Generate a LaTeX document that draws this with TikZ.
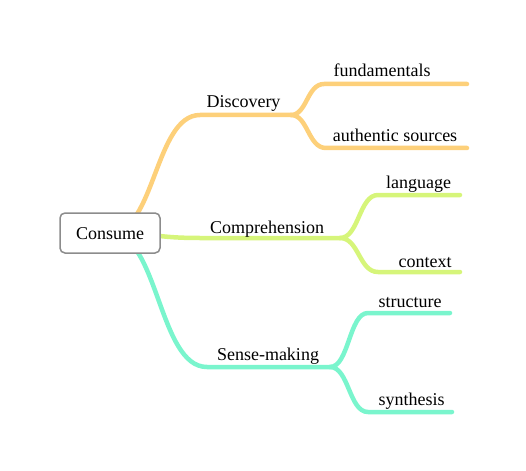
\documentclass[tikz,border=0pt]{standalone}
\usepackage{fontspec}
\setmainfont{Liberation Serif}
\definecolor{cOr}{RGB}{253,208,122}
\definecolor{cLi}{RGB}{214,245,122}
\definecolor{cMi}{RGB}{122,245,205}
\definecolor{cBox}{RGB}{140,140,140}
\begin{document}
\begin{tikzpicture}[x=1pt,y=-1pt,
  br/.style={line width=4.5pt,line cap=round},
  lbl/.style={anchor=base,inner sep=0pt,font=\fontsize{18}{20}\selectfont},
  rootbox/.style={draw=cBox,line width=1.5pt,fill=white,rounded corners=5pt,minimum width=100pt,minimum height=40pt,inner sep=0pt}]
\useasboundingbox (0,0) rectangle (526,470);
% coordinates
\coordinate (r) at (110,233);
\coordinate (dA) at (200,115); \coordinate (dF) at (291,115);
\coordinate (cA) at (200,238); \coordinate (cF) at (340,238);
\coordinate (sA) at (207,367); \coordinate (sF) at (330,367);
\coordinate (f1) at (324,84);  \coordinate (f2) at (467,84);
\coordinate (a1) at (326,148); \coordinate (a2) at (467,148);
\coordinate (l1) at (378,195); \coordinate (l2) at (460,195);
\coordinate (x1) at (378,272); \coordinate (x2) at (460,272);
\coordinate (t1) at (368,313); \coordinate (t2) at (450,313);
\coordinate (y1) at (368,412); \coordinate (y2) at (452,412);
% Discovery
\draw[br,cOr] (r) .. controls (155,233) and (155,115) .. (dA) -- (dF);
\draw[br,cOr] (dF) .. controls (307,115) and (307,84) .. (f1) -- (f2);
\draw[br,cOr] (dF) .. controls (308,115) and (308,148) .. (a1) -- (a2);
% Comprehension
\draw[br,cLi] (r) .. controls (155,233) and (155,238) .. (cA) -- (cF);
\draw[br,cLi] (cF) .. controls (359,238) and (359,195) .. (l1) -- (l2);
\draw[br,cLi] (cF) .. controls (359,238) and (359,272) .. (x1) -- (x2);
% Sense-making
\draw[br,cMi] (r) .. controls (158.5,233) and (158.5,367) .. (sA) -- (sF);
\draw[br,cMi] (sF) .. controls (349,367) and (349,313) .. (t1) -- (t2);
\draw[br,cMi] (sF) .. controls (349,367) and (349,412) .. (y1) -- (y2);
% root
\node[rootbox] (root) at (110,233) {};
\node[lbl] (rootT) at (110,239) {Consume};
% labels
\node[lbl] (disc) at (243.5,108) {Discovery};
\node[lbl] (comp) at (267,233) {Comprehension};
\node[lbl] (sense) at (268,360) {Sense-making};
\node[lbl] (fund) at (382,77) {fundamentals};
\node[lbl] (auth) at (395,142) {authentic sources};
\node[lbl] (lang) at (418.5,188) {language};
\node[lbl] (ctx) at (425,267) {context};
\node[lbl] (str) at (410,307) {structure};
\node[lbl] (syn) at (411.5,405) {synthesis};
\end{tikzpicture}
\end{document}
